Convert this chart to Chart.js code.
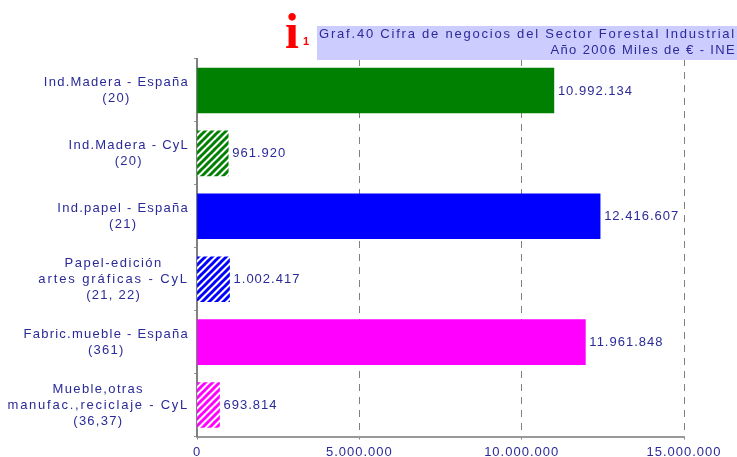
<!DOCTYPE html>
<html>
<head>
<meta charset="utf-8">
<script src="https://cdn.jsdelivr.net/npm/chart.js@4"></script>
<style>
  html, body { margin: 0; padding: 0; background: #fff; }
  #caja { position: relative; width: 737px; height: 457px; overflow: hidden; }
  #grafico { position: absolute; left: 0; top: 0; }
  #titulo {
    position: absolute; left: 317px; top: 26px; width: 420px; height: 34px;
    background: #ccccff; color: #2a2a99; text-align: right; box-sizing: border-box; padding-right: 1px;
    font: 13px/16px "Liberation Sans", sans-serif; letter-spacing: 1.78px; white-space: nowrap;
  }
  #titulo span { letter-spacing: 1.35px; }
  #icono { position: absolute; left: 285px; top: 6px; color: #ff0000; font-family: "Liberation Serif", serif; font-weight: bold; }
  #icono .i { position: absolute; left: 0; top: 0; font-size: 50px; line-height: 50px; }
  #icono .n { position: absolute; left: 18px; top: 29px; font: bold 11px/12px "Liberation Sans", sans-serif; }
</style>
</head>
<body>
<div id="caja">
  <canvas id="grafico" width="737" height="457"></canvas>
  <div id="icono"><span class="i">i</span><span class="n">1</span></div>
  <div id="titulo">Graf.40 Cifra de negocios del Sector Forestal Industrial<br><span>Año 2006 Miles de € - INE</span></div>
</div>
<script>
const categorias = [
  ['Ind.Madera - España', '(20)'],
  ['Ind.Madera - CyL', '(20)'],
  ['Ind.papel - España', '(21)'],
  ['Papel-edición', 'artes gráficas - CyL', '(21, 22)'],
  ['Fabric.mueble - España', '(361)'],
  ['Mueble,otras', 'manufac.,reciclaje - CyL', '(36,37)']
];
const valores = [10992134, 961920, 12416607, 1002417, 11961848, 693814];
const coloresBase = ['#008000', '#008000', '#0000ff', '#0000ff', '#ff00ff', '#ff00ff'];
const conTrama = [false, true, false, true, false, true];

const colorTexto = '#2a2a99';
const fuente = '13px "Liberation Sans", sans-serif';
const espaciadoNumeros = '1px';
// las líneas con muchas letras estrechas salen más abiertas en el original
const espaciadoEspecial = {
  'Papel-edición': 1.5,
  'artes gráficas - CyL': 1.9,
  'Mueble,otras': 1.35,
  'manufac.,reciclaje - CyL': 1.75
};

// formato con puntos de miles
function miles(n) {
  return String(n).replace(/\B(?=(\d{3})+(?!\d))/g, '.');
}

function espaciadoLinea(l) {
  return (espaciadoEspecial[l] || 1.25) + 'px';
}

// trama diagonal para las barras de CyL
function trama(color) {
  const t = 7;
  const c = document.createElement('canvas');
  c.width = t;
  c.height = t;
  const x = c.getContext('2d');
  x.fillStyle = '#fff';
  x.fillRect(0, 0, t, t);
  x.strokeStyle = color;
  x.lineWidth = 3;
  [-t, 0, t, 2 * t].forEach((d) => {
    x.beginPath();
    x.moveTo(d - 1, t + 1);
    x.lineTo(d + t + 1, -1);
    x.stroke();
  });
  return x.createPattern(c, 'repeat');
}

// etiquetas del eje Y centradas línea a línea, y valores al final de cada barra
const textos = {
  id: 'textos',
  beforeDraw(chart) {
    chart.ctx.letterSpacing = espaciadoNumeros;
  },
  afterDatasetsDraw(chart) {
    const ctx = chart.ctx;
    const y = chart.scales.y;
    const meta = chart.getDatasetMeta(0);
    ctx.save();
    ctx.font = fuente;
    ctx.fillStyle = colorTexto;
    ctx.textBaseline = 'middle';
    categorias.forEach((lineas, i) => {
      const centro = y.getPixelForTick(i);
      const anchos = lineas.map((l) => {
        ctx.letterSpacing = espaciadoLinea(l);
        return ctx.measureText(l).width;
      });
      const cx = 189 - Math.max(...anchos) / 2;
      ctx.textAlign = 'center';
      lineas.forEach((l, j) => {
        ctx.letterSpacing = espaciadoLinea(l);
        ctx.fillText(l, cx, centro + (j - (lineas.length - 1) / 2) * 16);
      });
      ctx.textAlign = 'left';
      ctx.letterSpacing = espaciadoNumeros;
      ctx.fillText(miles(valores[i]), meta.data[i].x + 4, centro + 0.5);
    });
    ctx.restore();
  }
};

const ctx = document.getElementById('grafico');

new Chart(ctx, {
  type: 'bar',
  data: {
    labels: categorias,
    datasets: [{
      data: valores,
      backgroundColor: coloresBase.map((c, i) => (conTrama[i] ? trama(c) : c)),
      borderWidth: 0,
      barThickness: 45
    }]
  },
  options: {
    indexAxis: 'y',
    responsive: false,
    animation: false,
    layout: { padding: { top: 59, right: 53, bottom: 0, left: 0 } },
    plugins: { legend: { display: false }, tooltip: { enabled: false } },
    scales: {
      x: {
        min: 0,
        max: 15000000,
        afterFit(s) { s.height = 20.5; },
        ticks: {
          stepSize: 5000000,
          maxRotation: 0,
          color: colorTexto,
          font: { family: '"Liberation Sans", sans-serif', size: 13 },
          padding: 5,
          callback: (v) => miles(v)
        },
        grid: { color: '#808080', lineWidth: 1, tickLength: 3, tickBorderDash: [] },
        border: { color: '#999999', width: 2, dash: [7, 6] }
      },
      y: {
        afterFit(s) { s.width = 197; },
        ticks: { display: false },
        grid: { drawOnChartArea: false, color: '#999999', tickLength: 3 },
        border: { color: '#808080', width: 2 }
      }
    }
  },
  plugins: [textos]
});
</script>
</body>
</html>
